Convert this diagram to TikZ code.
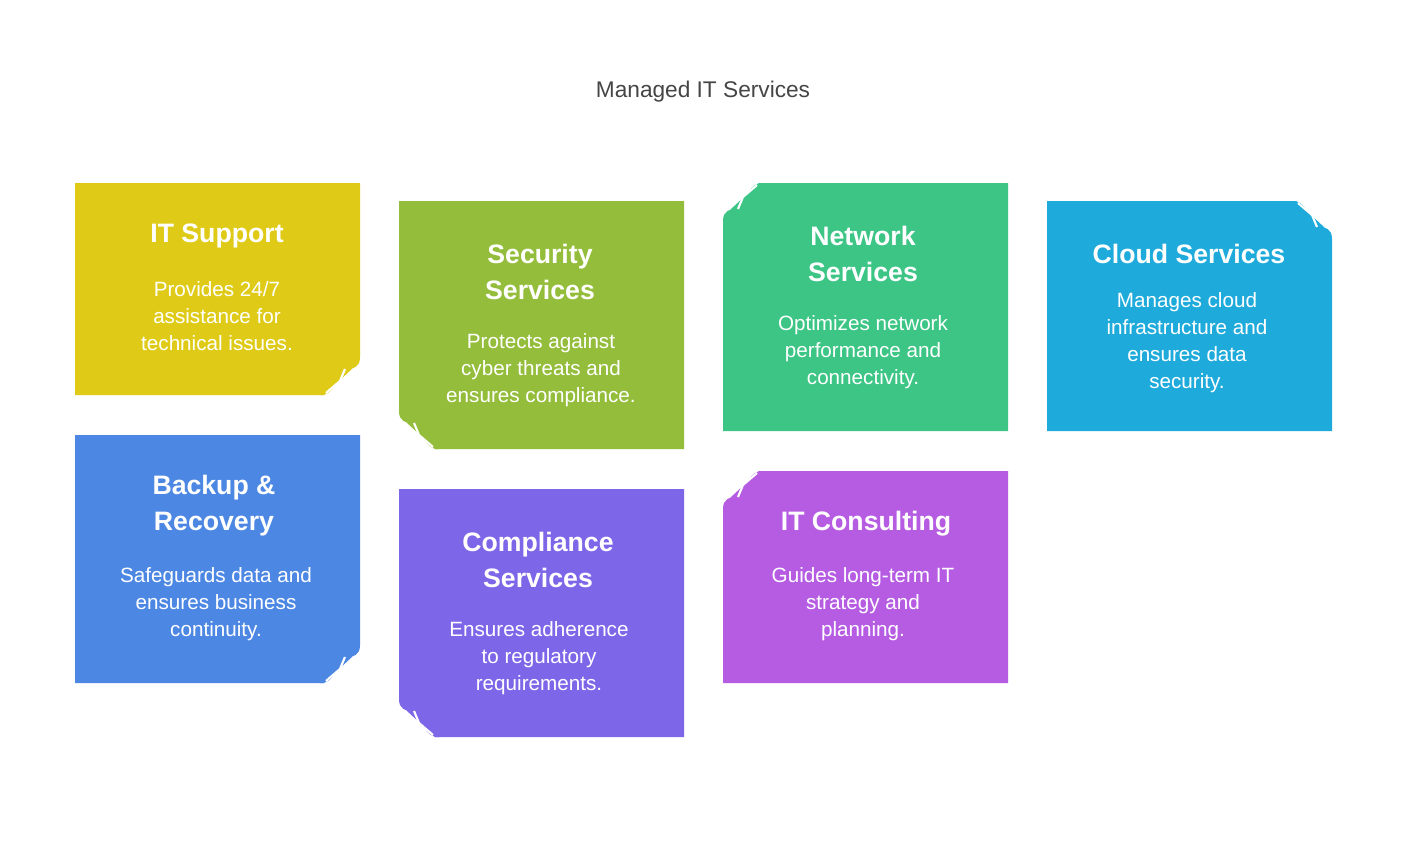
\documentclass[tikz,border=0pt]{standalone}
\usepackage{fontspec}
\setmainfont{Liberation Sans}
\begin{document}
\begin{tikzpicture}[x=0.75pt,y=-0.75pt,
  hd/.style={text=white,font=\fontsize{20}{27}\selectfont\bfseries,align=center},
  bd/.style={text=white,font=\fontsize{15.5}{20.3}\selectfont,align=center},
  ttl/.style={text=black!73,font=\fontsize{17}{20}\selectfont}]
\definecolor{c1}{HTML}{DFCB17}\definecolor{c2}{HTML}{94BD3C}\definecolor{c3}{HTML}{3CC585}
\definecolor{c4}{HTML}{1EAADB}\definecolor{c5}{HTML}{4C87E3}\definecolor{c6}{HTML}{7D66E8}
\definecolor{c7}{HTML}{B65CE3}
\useasboundingbox[fill=white] (0,0) rectangle (1407,849);
\newcommand\curlbox[6]{%
  \begin{scope}[shift={(#1,#2)},#6]
  \fill[#5] (-#3,-#4) -- (0,-#4) -- (0,-38) .. controls (0,-28) and (-6,-26) .. (-15,-26)
     -- (-7,-27) -- (-36,0) -- (-#3,0) -- cycle;
  \fill[#5] (-15,-26) -- (-26,-8) .. controls (-30,-3) and (-33,0) .. (-40,0) -- (-36,0) -- cycle;
  \draw[white,line width=1.6pt,line join=round] (-15,-26) -- (-20,-14) -- (-34,-2);
  \end{scope}}
\node[ttl] (title) at (703,92) {Managed IT Services};
% 1 IT Support
\curlbox{360}{395}{285}{212}{c1}{}
\node[hd] (h1) at (217,236) {IT Support};
\node[bd] (b1) at (217,316) {Provides 24/7\\assistance for\\technical issues.};
% 2 Security
\curlbox{399}{449}{285}{248}{c2}{xscale=-1}
\node[hd] (h2) at (540,272) {Security\\Services};
\node[bd] (b2) at (541,370) {Protects against\\cyber threats and\\ensures compliance.};
% 3 Network
\curlbox{723}{183}{285}{248}{c3}{xscale=-1,yscale=-1}
\node[hd] (h3) at (863,254) {Network\\Services};
\node[bd] (b3) at (863,352) {Optimizes network\\performance and\\connectivity.};
% 4 Cloud
\curlbox{1332}{201}{285}{230}{c4}{yscale=-1}
\node[hd] (h4) at (1189,254) {Cloud Services};
\node[bd] (b4) at (1187,343) {Manages cloud\\infrastructure and\\ensures data\\security.};
% 5 Backup
\curlbox{360}{683}{285}{248}{c5}{}
\node[hd] (h5) at (214,506) {Backup \&\\Recovery};
\node[bd] (b5) at (216,604) {Safeguards data and\\ensures business\\continuity.};
% 6 Compliance
\curlbox{399}{737}{285}{248}{c6}{xscale=-1}
\node[hd] (h6) at (538,560) {Compliance\\Services};
\node[bd] (b6) at (539,658) {Ensures adherence\\to regulatory\\requirements.};
% 7 Consulting
\curlbox{723}{471}{285}{212}{c7}{xscale=-1,yscale=-1}
\node[hd] (h7) at (866,524) {IT Consulting};
\node[bd] (b7) at (863,604) {Guides long-term IT\\strategy and\\planning.};
\end{tikzpicture}
\end{document}
